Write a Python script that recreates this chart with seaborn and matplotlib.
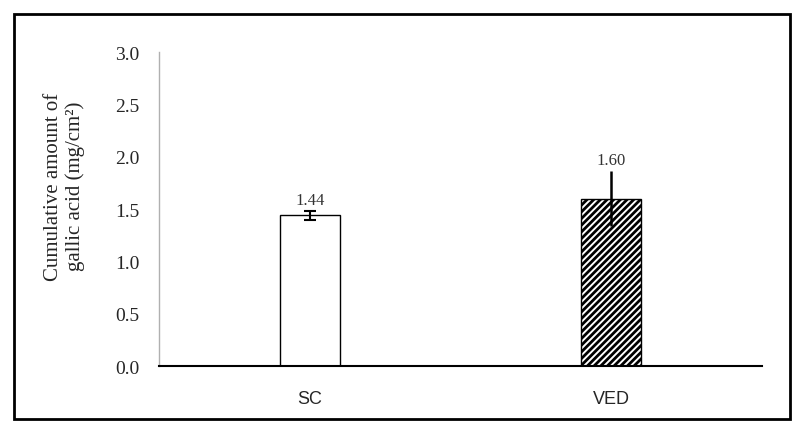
import matplotlib
matplotlib.use("Agg")
import matplotlib.pyplot as plt
import matplotlib.patches as patches
import pandas as pd
import seaborn as sns

# datos
groups = ["SC", "VED"]
means = [1.44, 1.60]
errors = [0.04, 0.26]
value_labels = ["1.44", "1.60"]
yticks = [0.0, 0.5, 1.0, 1.5, 2.0, 2.5, 3.0]

df = pd.DataFrame({"group": groups, "amount": means, "err": errors})

sns.set_style("white")
plt.rcParams["font.family"] = ["Liberation Serif", "DejaVu Serif"]
plt.rcParams["hatch.linewidth"] = 2.0

fig = plt.figure(figsize=(8, 4.39), dpi=100)
ax = fig.add_axes([0.199, 0.164, 0.7535, 0.715])

sns.barplot(data=df, x="group", y="amount", ax=ax, width=0.2,
            color="white", edgecolor="black", linewidth=1.0, errorbar=None)

# relleno rayado para VED
ax.patches[1].set_hatch("/////")
ax.patches[1].set_edgecolor("black")

# barras de error (SC con tapas, VED sin tapas)
ax.errorbar([0], [means[0]], yerr=[errors[0]], fmt="none",
            ecolor="black", elinewidth=1.5, capsize=4, capthick=1.5)
ax.errorbar([1], [means[1]], yerr=[errors[1]], fmt="none",
            ecolor="black", elinewidth=1.8, capsize=0)

for i, (m, e, lab) in enumerate(zip(means, errors, value_labels)):
    ax.text(i, m + e + 0.11, lab, ha="center", va="center", fontsize=12,
            color="#333333")

ax.set_ylim(0, 3.0)
ax.set_xlim(-0.5, 1.5)
ax.set_yticks(yticks)
ax.set_yticklabels(["{:.1f}".format(t) for t in yticks], fontsize=14)
ax.tick_params(axis="y", length=0, pad=14)
ax.tick_params(axis="x", length=0, pad=17)
for t in ax.get_xticklabels():
    t.set_fontfamily(["Liberation Sans", "DejaVu Sans"])
    t.set_fontsize(13)
ax.set_xlabel("")
ax.set_ylabel("Cumulative amount of\ngallic acid (mg/cm²)", fontsize=15,
              linespacing=1.15)
ax.yaxis.set_label_coords(-0.157, 0.575)
ax.yaxis.label.set_verticalalignment("center")

sns.despine(ax=ax)
ax.spines["left"].set_color("#b0b0b0")
ax.spines["left"].set_linewidth(1.0)
ax.spines["bottom"].set_color("black")
ax.spines["bottom"].set_linewidth(1.5)

# marco exterior
frame = patches.Rectangle((0.0175, 0.043), 0.97, 0.923, transform=fig.transFigure,
                          fill=False, edgecolor="black", linewidth=2)
fig.patches.append(frame)

fig.savefig("out.png", dpi=100)
